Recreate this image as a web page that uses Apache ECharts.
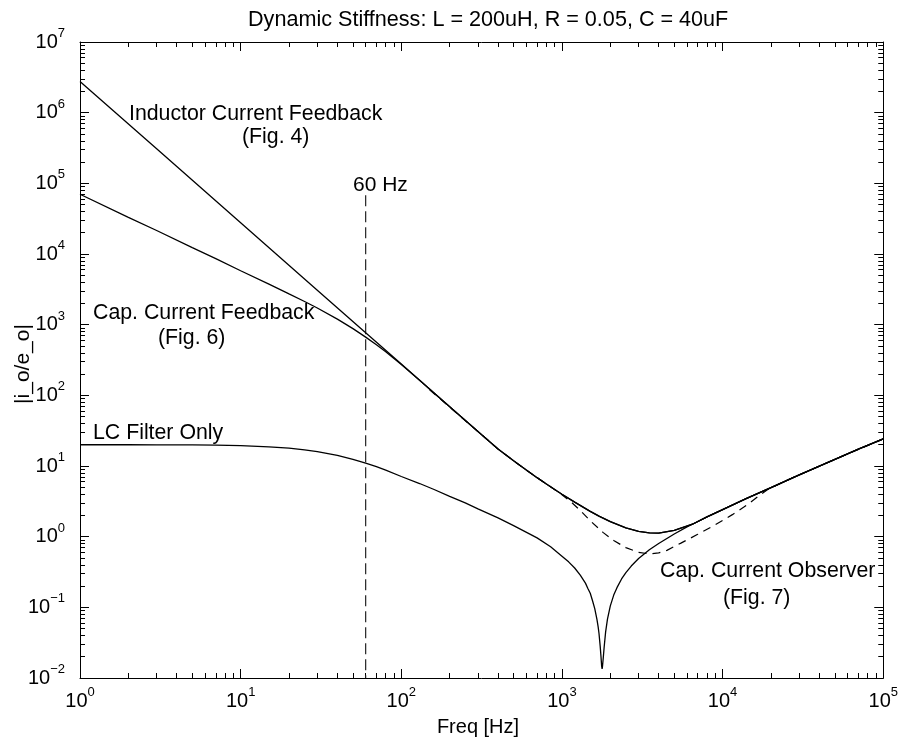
<!DOCTYPE html>
<html><head><meta charset="utf-8">
<script src="https://cdn.jsdelivr.net/npm/echarts@6/dist/echarts.min.js"></script>
<style>html,body{margin:0;padding:0;background:#fff}#c{width:901px;height:743px}</style>
</head><body><div id="c"></div>
<script>
// ---- data ----
const xMajorTicks = [1, 10, 100, 1000, 10000, 100000];
const yMajorTicks = [0.01, 0.1, 1, 10, 100, 1000, 1e4, 1e5, 1e6, 1e7];
const minorFactors = [2, 3, 4, 5, 6, 7, 8, 9];

const freqLC = [1,2,3,5,7,10,15,20,25,30,40,50,60,70,80,100,130,160,200,250,300,400,500,700,850,1000,1100,1200,1300,1400,1450,1500,1550,1600,1650,1680,1700,1730,1750,1765,1778,1790,1810,1830,1870,1920,2000,2100,2200,2350,2500,2700,3000,3500,4000,5000,6000,7000,8000,10000,14000,20000,30000,50000,70000,100000];
const valLC  = [20.0,19.97,19.94,19.84,19.70,19.4,18.7,17.9,16.9,16.0,14.1,12.45,11.0,9.8,8.75,7.1,5.65,4.65,3.72,3.0,2.48,1.84,1.43,0.96,0.72,0.53,0.44,0.36,0.285,0.22,0.185,0.158,0.124,0.096,0.068,0.053,0.043,0.028,0.02,0.015,0.0135,0.015,0.02,0.027,0.045,0.068,0.105,0.149,0.19,0.252,0.31,0.384,0.49,0.652,0.80,1.09,1.375,1.64,1.91,2.42,3.46,4.95,7.5,12.4,17.3,24.2];

const freqIND = [1,3,10,30,60,100,130,170,230,300,400,500,600,700,800,900,1000,1200,1500,1700,2000,2500,3000,3500,4000,5000,6500,8000,10000,14000,20000,30000,50000,70000,100000];
const valIND  = [2.77e6,3.08e5,2.77e4,3.08e3,769,277,164,95.8,52.4,30.8,17.4,11.85,8.76,6.84,5.57,4.66,3.99,3.08,2.28,1.95,1.63,1.33,1.19,1.13,1.124,1.23,1.50,1.91,2.42,3.46,4.95,7.5,12.4,17.3,24.2];

const freqCAP = [1,2,3,5,7,10,15,20,25,30,40,50,60,70,80,100,130,170,230,300,400,500,600,700,800,900,1000,1200,1500,1700,2000,2500,3000,3500,4000,5000,6500,8000,10000,14000,20000,30000,50000,70000,100000];
const valCAP  = [7.0e4,3.3e4,2.15e4,1.23e4,8.6e3,5.8e3,3.75e3,2.72e3,2.13e3,1.72e3,1.2e3,880,667,520,413,273,164,95.8,52.4,30.8,17.4,11.85,8.76,6.84,5.57,4.66,3.99,3.08,2.28,1.95,1.63,1.33,1.19,1.13,1.124,1.23,1.50,1.91,2.42,3.46,4.95,7.5,12.4,17.3,24.2];

const freqOBS = [150,200,300,400,500,600,700,800,900,1000,1150,1300,1500,1800,2100,2500,3000,3500,4000,4500,5500,7000,9000,11500,13500,15000,17000,19000,23000,27000,50000,100000];
const valOBS  = [120,68,30.8,17.4,11.85,8.76,6.84,5.57,4.66,3.92,3.05,2.35,1.68,1.15,0.88,0.70,0.60,0.57,0.59,0.64,0.81,1.08,1.47,2.05,2.6,3.1,3.85,4.6,5.7,6.75,12.4,24.2];

const freq60 = [60, 60];
const val60  = [6.8e4, 0.01];

// ---- build ----
const FONT = '"Liberation Sans", Arial, Helvetica, sans-serif';
const pairs = (xs, ys) => xs.map((x, i) => [x, ys[i]]);
const minorOf = (majors) => {
  const out = [];
  for (let i = 0; i < majors.length - 1; i++) minorFactors.forEach(f => out.push(majors[i] * f));
  return out;
};
const xMinor = minorOf(xMajorTicks);
const yMinor = minorOf(yMajorTicks);

function supLabel(v) {
  const e = Math.round(Math.log10(v));
  return '{b|10}{s|' + (e < 0 ? '\u2212' + (-e) : e) + '}';
}
const rich = {
  b: { fontSize: 20, fontFamily: FONT, color: '#000', lineHeight: 30 },
  s: { fontSize: 13, fontFamily: FONT, color: '#000', lineHeight: 15, verticalAlign: 'top' }
};

function mkAxis(kind, pos, major, ticks, min, max, withLabels) {
  return {
    type: 'log', logBase: 10, min: min, max: max, position: pos,
    axisLine: { show: major, onZero: false, lineStyle: { color: '#000', width: 1 } },
    axisTick: { show: true, inside: true, length: major ? 9 : 5, customValues: ticks,
      lineStyle: { color: '#000', width: 1 } },
    axisLabel: withLabels ? { show: true, customValues: ticks, formatter: supLabel, rich: rich,
      margin: kind === 'x' ? 8 : 15 } : { show: false },
    splitLine: { show: false }, minorTick: { show: false }
  };
}

const chart = echarts.init(document.getElementById('c'), null, { renderer: 'canvas' });
const lineSeries = (name, data, extra) => Object.assign({
  name: name, type: 'line', data: data, showSymbol: false, symbol: 'none', smooth: false,
  xAxisIndex: 0, yAxisIndex: 0, animation: false,
  lineStyle: { color: '#000', width: 1.3 }, z: 3
}, extra || {});

const txt = (x, y, text, size) => ({ type: 'text', x: x, y: y,
  style: { text: text, fontSize: size || 21, fontFamily: FONT, fill: '#000', align: 'left', verticalAlign: 'middle' } });

const option = {
  animation: false,
  backgroundColor: '#fff',
  title: {
    text: 'Dynamic Stiffness: L = 200uH, R = 0.05, C = 40uF',
    left: 243, top: 4,
    textStyle: { fontFamily: FONT, fontSize: 21.6, fontWeight: 'normal', color: '#000' }
  },
  grid: { left: 80, right: 17, top: 42, bottom: 65, containLabel: false },
  xAxis: [
    mkAxis('x', 'bottom', true, xMajorTicks, 1, 1e5, true),
    mkAxis('x', 'bottom', false, xMinor, 1, 1e5, false),
    mkAxis('x', 'top', true, xMajorTicks, 1, 1e5, false),
    mkAxis('x', 'top', false, xMinor, 1, 1e5, false)
  ],
  yAxis: [
    mkAxis('y', 'left', true, yMajorTicks, 0.01, 1e7, true),
    mkAxis('y', 'left', false, yMinor, 0.01, 1e7, false),
    mkAxis('y', 'right', true, yMajorTicks, 0.01, 1e7, false),
    mkAxis('y', 'right', false, yMinor, 0.01, 1e7, false)
  ],
  series: [
    lineSeries('LC Filter Only', pairs(freqLC, valLC)),
    lineSeries('Inductor Current Feedback (Fig. 4)', pairs(freqIND, valIND)),
    lineSeries('Cap. Current Feedback (Fig. 6)', pairs(freqCAP, valCAP)),
    lineSeries('Cap. Current Observer (Fig. 7)', pairs(freqOBS, valOBS),
      { lineStyle: { color: '#000', width: 1.2, type: [8, 6] }, z: 4 }),
    lineSeries('60 Hz', pairs(freq60, val60),
      { lineStyle: { color: '#222', width: 1.2, type: [11, 5] }, z: 2 })
  ],
  graphic: [
    txt(129, 114, 'Inductor Current Feedback', 21.3),
    txt(242, 137, '(Fig. 4)', 21.3),
    txt(353, 185, '60 Hz', 21),
    txt(93, 313, 'Cap. Current Feedback', 21.3),
    txt(158, 338, '(Fig. 6)', 21.3),
    txt(93, 433, 'LC Filter Only', 21.3),
    txt(660, 571, 'Cap. Current Observer', 21.3),
    txt(723, 598, '(Fig. 7)', 21.3),
    { type: 'text', x: 478, y: 727, style: { text: 'Freq [Hz]', fontSize: 20, fontFamily: FONT, fill: '#000', align: 'center', verticalAlign: 'middle' } },
    { type: 'text', x: 23, y: 364, rotation: Math.PI / 2, style: { text: '|i_o/e_o|', fontSize: 21, fontFamily: FONT, fill: '#000', align: 'center', verticalAlign: 'middle' } }
  ]
};
chart.setOption(option);
</script>
</body></html>
